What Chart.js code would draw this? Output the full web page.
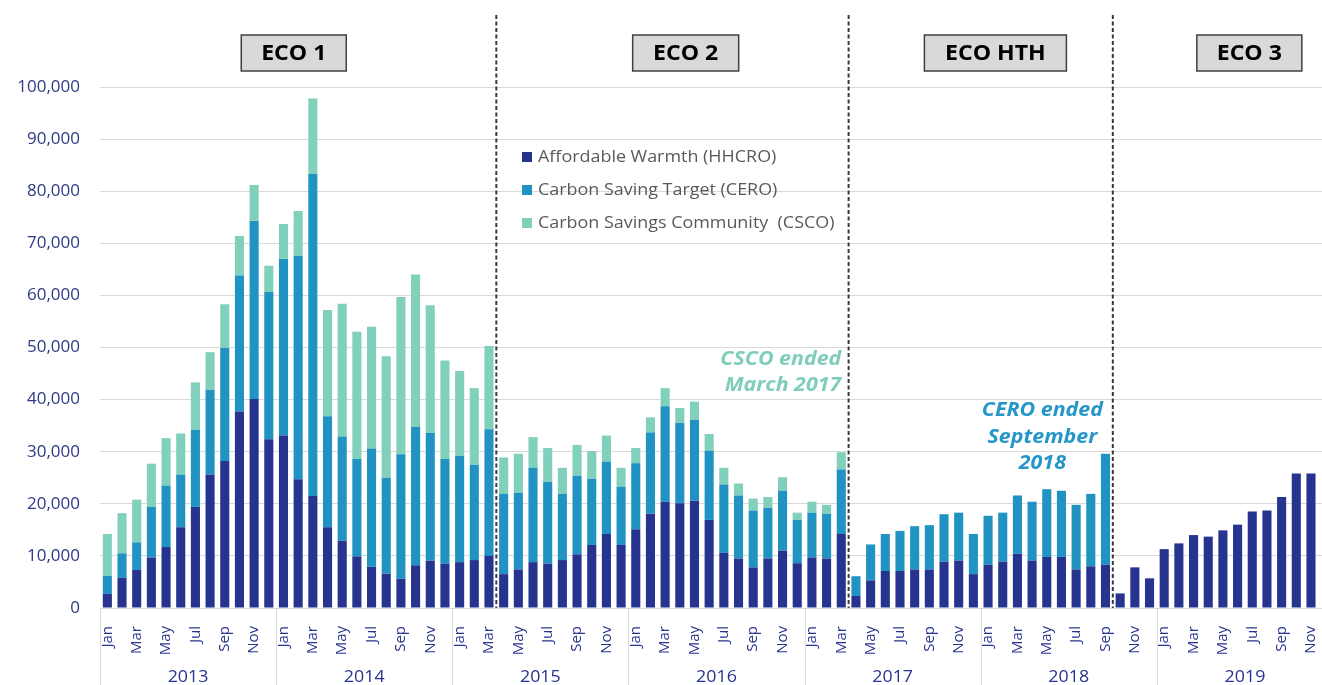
<!DOCTYPE html>
<html>
<head>
<meta charset="utf-8">
<script src="https://cdn.jsdelivr.net/npm/chart.js@4.4.1/dist/chart.umd.min.js"></script>
<style>
  html, body { margin: 0; padding: 0; background: #fff; overflow: hidden; }
  #wrap { width: 1322px; height: 685px; overflow: hidden; }
  canvas { display: block; }
</style>
</head>
<body>
<div id="wrap"><canvas id="chart" width="1340" height="685"></canvas></div>
<script>
const years = ['2013', '2014', '2015', '2016', '2017', '2018', '2019'];
const months = ['Jan', 'Feb', 'Mar', 'Apr', 'May', 'Jun', 'Jul', 'Aug', 'Sep', 'Oct', 'Nov', 'Dec'];

// measures per month, Jan 2013 .. Dec 2019
const hhcro = [
  2700, 5800, 7300, 9700, 11700, 15500, 19400, 25600, 28200, 37700, 40100, 32400,
  33100, 24700, 21500, 15500, 12900, 9900, 7900, 6600, 5600, 8200, 9100, 8500,
  8800, 9200, 10000, 6500, 7400, 8800, 8500, 9200, 10300, 12100, 14200, 12100,
  15100, 18100, 20400, 20100, 20600, 16900, 10600, 9500, 7800, 9500, 11000, 8600,
  9700, 9500, 14200, 2300, 5300, 7100, 7100, 7400, 7400, 8900, 9100, 6500,
  8300, 8900, 10400, 9100, 9800, 9800, 7400, 8000, 8300, 2800, 7800, 5700,
  11300, 12400, 14000, 13700, 14900, 16000, 18500, 18700, 21300, 25800, 25800, null
];
const cero = [
  3500, 4700, 5300, 9700, 11800, 10100, 14800, 16300, 21700, 26100, 34200, 28300,
  33900, 42900, 61800, 21300, 20000, 18700, 22700, 18400, 23900, 26600, 24500, 20100,
  20400, 18300, 24300, 15400, 14700, 18100, 15700, 12700, 15100, 12700, 13900, 11200,
  12700, 15600, 18300, 15400, 15500, 13300, 13100, 12100, 10900, 9700, 11500, 8300,
  8600, 8600, 12400, 3800, 6900, 7100, 7700, 8300, 8500, 9100, 9200, 7700,
  9400, 9400, 11200, 11300, 13000, 12700, 12400, 13900, 21300, null, null, null,
  null, null, null, null, null, null, null, null, null, null, null, null
];
const csco = [
  8000, 7700, 8200, 8300, 9100, 7900, 9100, 7200, 8400, 7600, 6900, 5000,
  6700, 8600, 14500, 20400, 25500, 24400, 23400, 23300, 30200, 29200, 24500, 18900,
  16300, 14700, 16000, 7000, 7500, 5900, 6500, 5000, 5900, 5300, 5000, 3600,
  2900, 2900, 3500, 2900, 3500, 3200, 3200, 2300, 2300, 2100, 2600, 1400,
  2100, 1700, 3300, null, null, null, null, null, null, null, null, null,
  null, null, null, null, null, null, null, null, null, null, null, null,
  null, null, null, null, null, null, null, null, null, null, null, null
];

const labels = years.flatMap(y => months.map(m => m + ' ' + y));

// first month index of each new scheme (ECO 2, ECO HTH, ECO 3)
const phaseStarts = [27, 51, 69];
// scheme boxes: centre given as a category position
const phaseBoxes = [
  { text: 'ECO 1', at: 12.7, w: 105 },
  { text: 'ECO 2', at: 39.4, w: 106 },
  { text: 'ECO HTH', at: 60.5, w: 142 },
  { text: 'ECO 3', at: 77.8, w: 105 }
];
const notes = [
  { lines: ['CSCO ended', 'March 2017'], at: 50, align: 'right', vals: [47800, 42800], color: '#7FCDBA' },
  { lines: ['CERO ended', 'September', '2018'], at: 63.7, align: 'center', vals: [38000, 32800, 27800], color: '#2596C8' }
];

const NAVY = '#26348F';

// the source text is a little wider than Open Sans, stretch it sideways
function wideText(ctx, t, x, y, sx) {
  ctx.save();
  ctx.translate(x, y);
  ctx.scale(sx, 1);
  ctx.fillText(t, 0, 0);
  ctx.restore();
}

const decor = {
  id: 'decor',
  afterDraw(chart) {
    const { ctx, chartArea: a, scales: { x, y } } = chart;
    const step = x.getPixelForValue(1) - x.getPixelForValue(0);
    const edge = i => x.getPixelForValue(i) - step / 2;
    ctx.save();

    // year groups under the month labels
    ctx.strokeStyle = '#d9d9d9'; ctx.lineWidth = 1;
    ctx.fillStyle = NAVY; ctx.font = '17px "Open Sans"';
    ctx.textAlign = 'center'; ctx.textBaseline = 'middle';
    years.forEach((yr, k) => {
      const x0 = edge(k * 12), x1 = edge(k * 12 + 12);
      const px = Math.round(x0) + 0.5;
      ctx.beginPath(); ctx.moveTo(px, a.bottom); ctx.lineTo(px, chart.height); ctx.stroke();
      wideText(ctx, yr, (x0 + x1) / 2, a.bottom + 69, 1.05);
    });

    // dashed scheme dividers
    ctx.strokeStyle = '#3a3a3a'; ctx.lineWidth = 2; ctx.setLineDash([4, 2.5]);
    phaseStarts.forEach(i => {
      const px = edge(i);
      ctx.beginPath(); ctx.moveTo(px, 15); ctx.lineTo(px, a.bottom); ctx.stroke();
    });
    ctx.setLineDash([]);

    // scheme boxes
    ctx.font = 'bold 21px "Open Sans"';
    phaseBoxes.forEach(b => {
      const cx = x.getPixelForValue(b.at);
      ctx.fillStyle = '#d9d9d9';
      ctx.fillRect(cx - b.w / 2, 35, b.w, 36);
      ctx.strokeStyle = '#404040'; ctx.lineWidth = 1.5;
      ctx.strokeRect(cx - b.w / 2, 35, b.w, 36);
      ctx.fillStyle = '#000';
      wideText(ctx, b.text, cx, 54, 1.1);
    });

    // legend inside the plot
    ctx.font = '16px "Open Sans"'; ctx.textAlign = 'left';
    chart.data.datasets.forEach((ds, i) => {
      const ly = a.top + 70 + i * 33;
      ctx.fillStyle = ds.backgroundColor;
      ctx.fillRect(a.left + 422, ly - 5, 10, 10);
      ctx.fillStyle = '#595959';
      wideText(ctx, ds.label, a.left + 438, ly, 1.12);
    });

    // end-of-obligation notes
    ctx.font = 'italic bold 20px "Open Sans"';
    notes.forEach(n => {
      ctx.fillStyle = n.color; ctx.textAlign = n.align;
      const nx = x.getPixelForValue(n.at);
      n.lines.forEach((t, j) => wideText(ctx, t, nx, y.getPixelForValue(n.vals[j]), 1.07));
    });
    ctx.restore();
  }
};

new Chart(document.getElementById('chart'), {
  type: 'bar',
  data: {
    labels,
    datasets: [
      { label: 'Affordable Warmth (HHCRO)', data: hhcro, backgroundColor: '#26348F' },
      { label: 'Carbon Saving Target (CERO)', data: cero, backgroundColor: '#2093C2' },
      { label: 'Carbon Savings Community  (CSCO)', data: csco, backgroundColor: '#80D0BB' }
    ]
  },
  options: {
    responsive: false,
    animation: false,
    devicePixelRatio: 1,
    layout: { padding: { top: 87, right: 7, left: 0, bottom: 0 } },
    datasets: { bar: { barPercentage: 0.62, categoryPercentage: 1, borderWidth: 0 } },
    plugins: { legend: { display: false }, tooltip: { enabled: false } },
    scales: {
      x: {
        stacked: true,
        grid: { display: false },
        border: { color: '#d9d9d9' },
        afterFit: s => { s.height = 77; s.paddingLeft = 0; s.paddingRight = 0; },
        ticks: {
          autoSkip: false, minRotation: 90, maxRotation: 90, padding: 10,
          color: NAVY, font: { family: 'Open Sans', size: 15 },
          callback: (v, i) => i % 2 === 0 ? months[i % 12] : ''
        }
      },
      y: {
        stacked: true,
        min: 0, max: 100000,
        afterFit: s => { s.width = 100; },
        grid: { color: '#d9d9d9', drawTicks: false },
        border: { display: false },
        ticks: {
          stepSize: 10000, padding: 20,
          color: '#2E3A87', font: { family: 'Open Sans', size: 17 },
          callback: v => v.toLocaleString('en-GB')
        }
      }
    }
  },
  plugins: [decor]
});
</script>
</body>
</html>
